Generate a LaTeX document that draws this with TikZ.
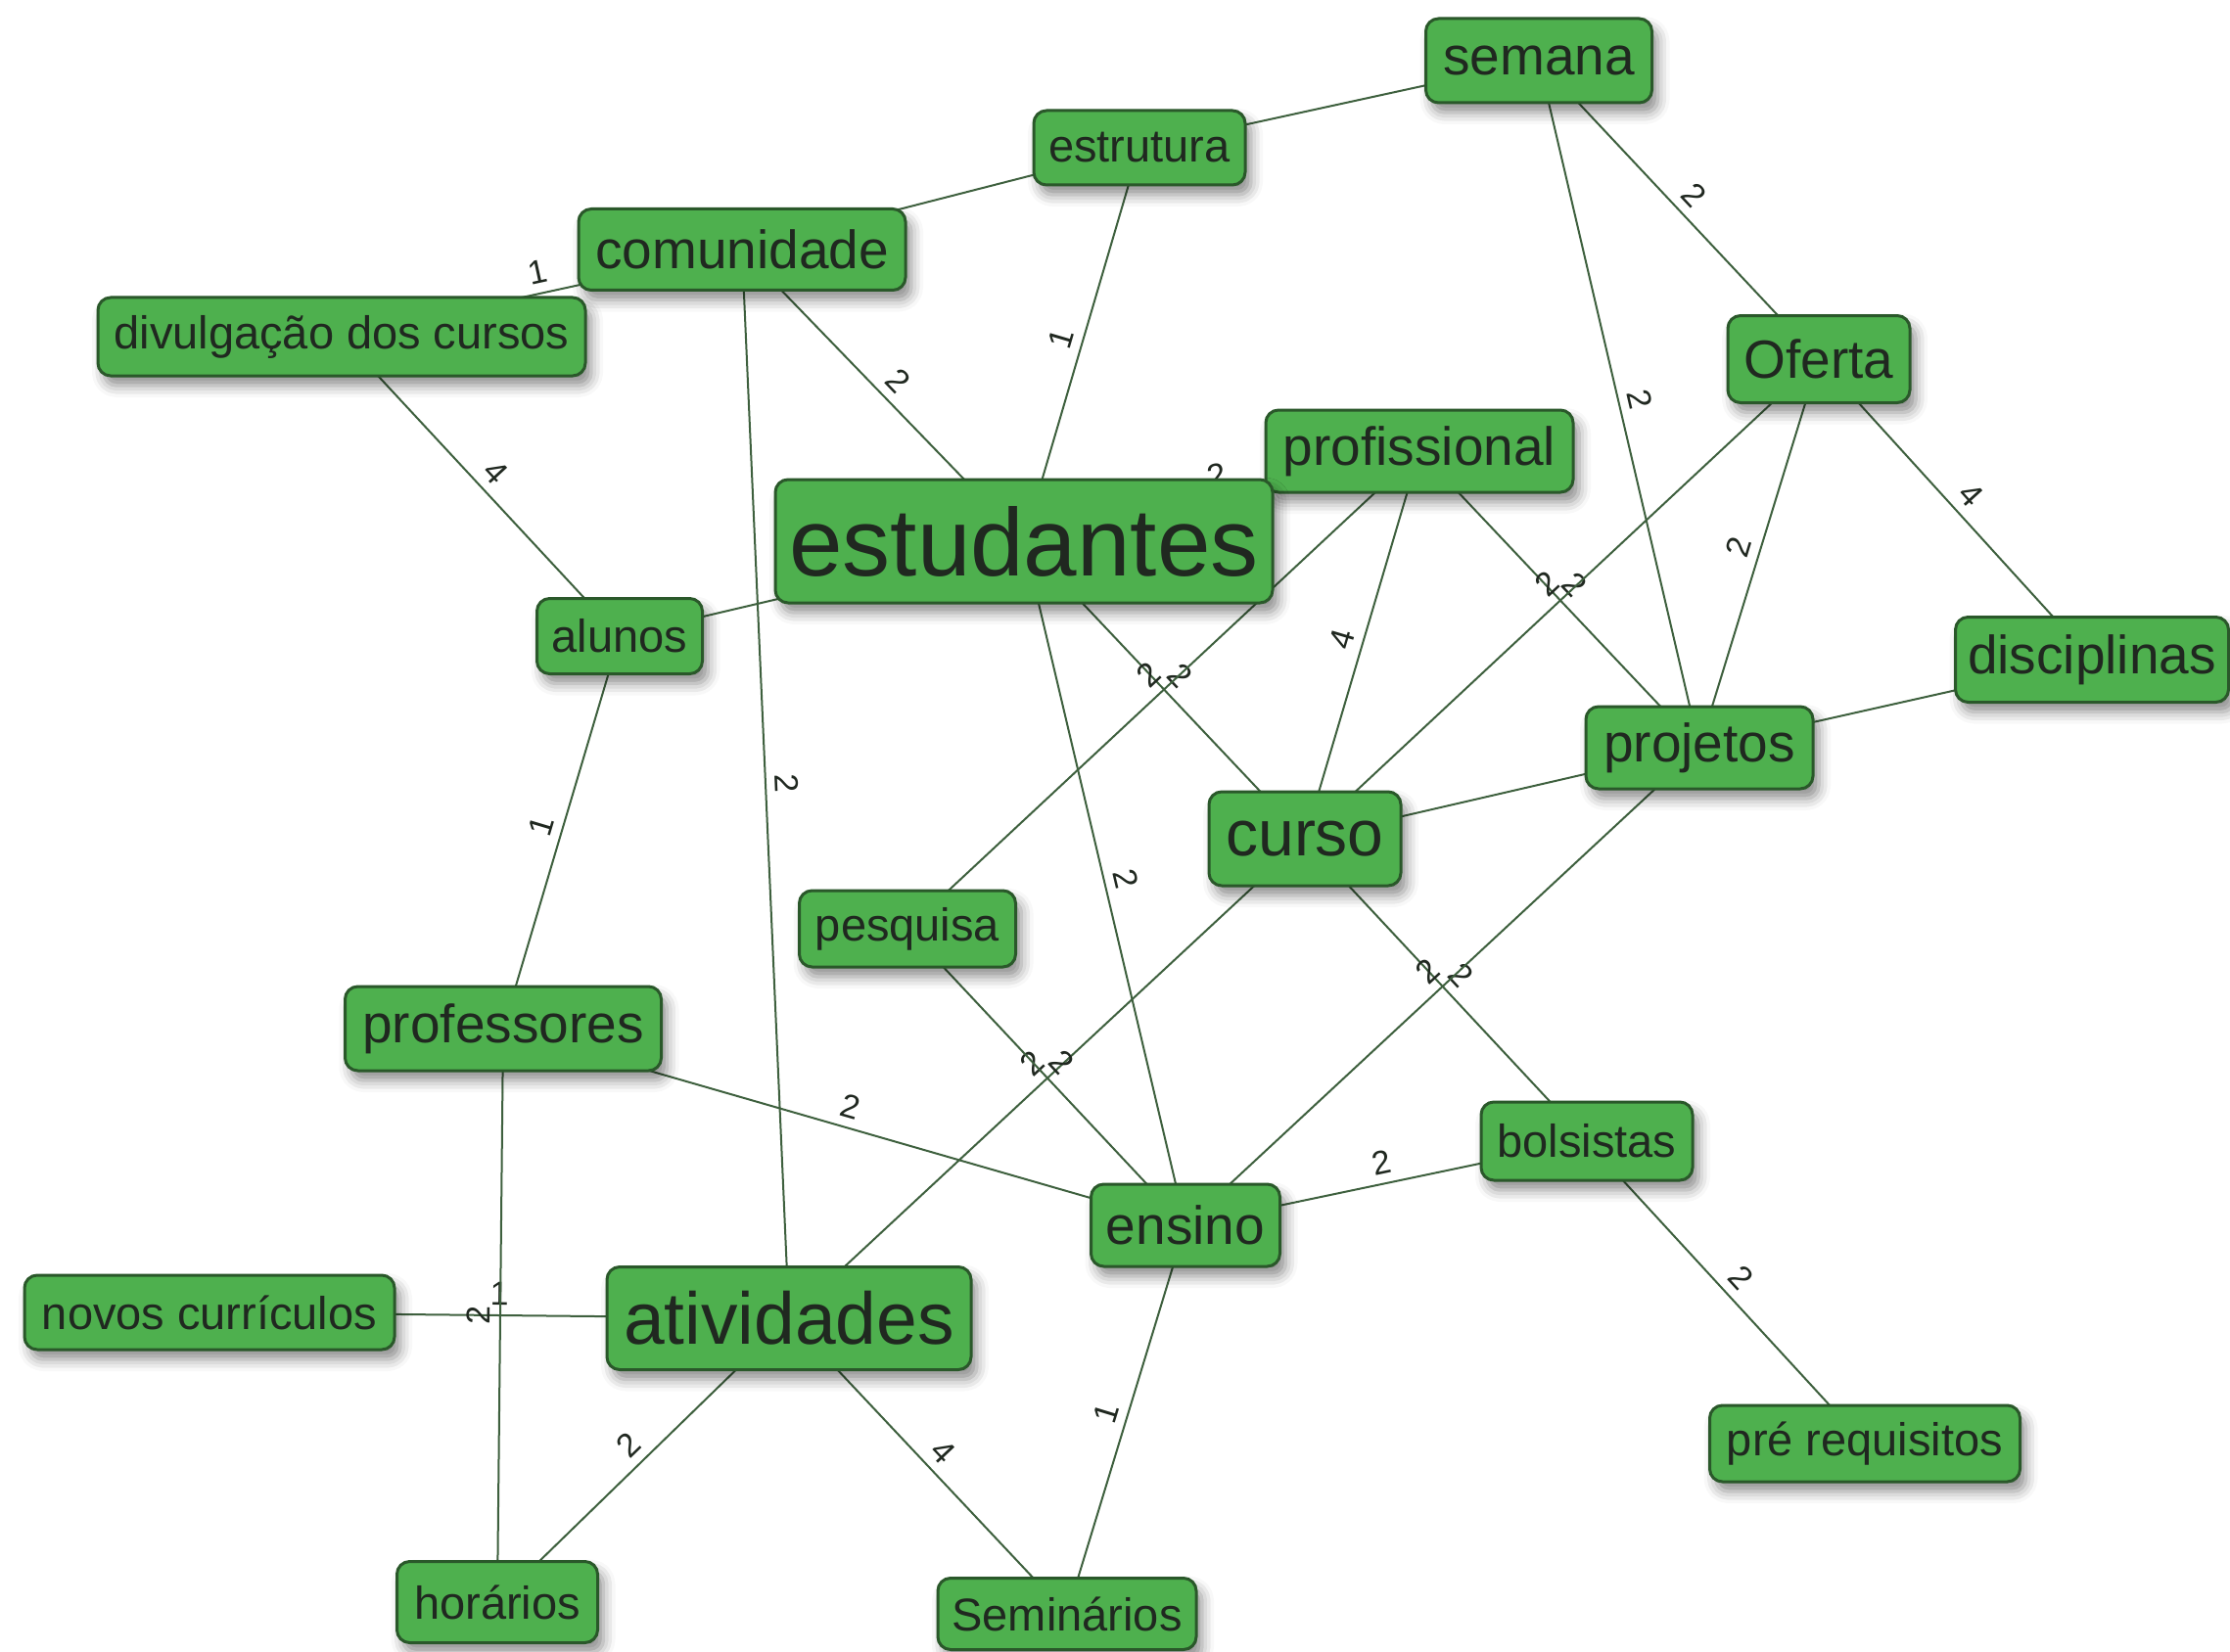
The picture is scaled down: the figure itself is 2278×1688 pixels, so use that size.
\documentclass[tikz,border=0pt]{standalone}
\usepackage{fontspec}
\setmainfont{Liberation Sans}
\usetikzlibrary{shadows.blur}
\definecolor{boxfill}{RGB}{78,176,78}
\definecolor{boxdraw}{RGB}{42,88,42}
\definecolor{txt}{RGB}{32,40,32}
\definecolor{edgec}{RGB}{62,96,62}
\pgfdeclarelayer{bg}
\pgfsetlayers{bg,main}
\begin{document}
\begin{tikzpicture}[x=1pt,y=-1pt,
  concept/.style={rectangle, rounded corners=13pt, fill=boxfill, draw=boxdraw,
    line width=3pt, text=txt, inner sep=0pt,
    blur shadow={shadow xshift=6pt, shadow yshift=-10pt, shadow blur radius=12pt, shadow opacity=45}},
  fsmall/.style={font=\fontsize{47}{50}\selectfont},
  fmed/.style={font=\fontsize{55}{58}\selectfont},
  fcurso/.style={font=\fontsize{66}{70}\selectfont},
  fativ/.style={font=\fontsize{75}{80}\selectfont},
  fbig/.style={font=\fontsize{98}{104}\selectfont},
  link/.style={draw=edgec, line width=2pt},
  lbl/.style={font=\fontsize{34}{36}\selectfont, text=txt, sloped, above, inner sep=9pt, midway}
]
\useasboundingbox (0,0) rectangle (2278,1688);

\node[concept, fmed,   minimum width=231pt, minimum height=86pt]  (semana)      at (1572,62)   {semana};
\node[concept, fsmall, minimum width=216pt, minimum height=76pt]  (estrutura)   at (1164,151)  {estrutura};
\node[concept, fmed,   minimum width=334pt, minimum height=83pt]  (comunidade)  at (758,255)   {comunidade};
\node[concept, fsmall, minimum width=498pt, minimum height=80pt]  (divulgacao)  at (349,344)   {divulgação dos cursos};
\node[concept, fmed,   minimum width=186pt, minimum height=89pt]  (oferta)      at (1858,367)  {Oferta};
\node[concept, fmed,   minimum width=314pt, minimum height=84pt]  (profissional) at (1450,461) {profissional};
\node[concept, fbig,   minimum width=508pt, minimum height=126pt] (estudantes)  at (1046,553)  {estudantes};
\node[concept, fsmall, minimum width=169pt, minimum height=77pt]  (alunos)      at (633,650)   {alunos};
\node[concept, fmed,   minimum width=279pt, minimum height=87pt]  (disciplinas) at (2137,674)  {disciplinas};
\node[concept, fmed,   minimum width=232pt, minimum height=84pt]  (projetos)    at (1736,764)  {projetos};
\node[concept, fcurso, minimum width=196pt, minimum height=96pt]  (curso)       at (1333,857)  {curso};
\node[concept, fsmall, minimum width=221pt, minimum height=78pt]  (pesquisa)    at (927,949)   {pesquisa};
\node[concept, fmed,   minimum width=323pt, minimum height=86pt]  (professores) at (514,1051)  {professores};
\node[concept, fsmall, minimum width=216pt, minimum height=80pt]  (bolsistas)   at (1621,1166) {bolsistas};
\node[concept, fmed,   minimum width=193pt, minimum height=84pt]  (ensino)      at (1211,1252) {ensino};
\node[concept, fsmall, minimum width=378pt, minimum height=76pt]  (novos)       at (214,1341)  {novos currículos};
\node[concept, fativ,  minimum width=372pt, minimum height=105pt] (atividades)  at (806,1347)  {atividades};
\node[concept, fsmall, minimum width=317pt, minimum height=78pt]  (prereq)      at (1905,1475) {pré requisitos};
\node[concept, fsmall, minimum width=205pt, minimum height=83pt]  (horarios)    at (508,1637)  {horários};
\node[concept, fsmall, minimum width=264pt, minimum height=73pt]  (seminarios)  at (1090,1649) {Seminários};

\begin{pgfonlayer}{bg}
\draw[link] (estrutura.center) -- (semana.center);
\draw[link] (comunidade.center) -- (estrutura.center);
\draw[link] (comunidade.center) -- node[lbl]{1} (divulgacao.center);
\draw[link] (divulgacao.center) -- node[lbl]{4} (alunos.center);
\draw[link] (comunidade.center) -- node[lbl]{2} (estudantes.center);
\draw[link] (estrutura.center) -- node[lbl]{1} (estudantes.center);
\draw[link] (comunidade.center) -- node[lbl]{2} (atividades.center);
\draw[link] (estudantes.center) -- (alunos.center);
\draw[link] (estudantes.center) -- node[lbl]{2} (profissional.center);
\draw[link] (estudantes.center) -- node[lbl]{2} (curso.center);
\draw[link] (estudantes.center) -- node[lbl]{2} (ensino.center);
\draw[link] (profissional.center) -- node[lbl]{4} (curso.center);
\draw[link] (profissional.center) -- node[lbl]{2} (projetos.center);
\draw[link] (profissional.center) -- node[lbl]{2} (pesquisa.center);
\draw[link] (oferta.center) -- node[lbl]{2} (curso.center);
\draw[link] (semana.center) -- node[lbl]{2} (projetos.center);
\draw[link] (semana.center) -- node[lbl]{2} (oferta.center);
\draw[link] (oferta.center) -- node[lbl]{2} (projetos.center);
\draw[link] (oferta.center) -- node[lbl]{4} (disciplinas.center);
\draw[link] (projetos.center) -- (disciplinas.center);
\draw[link] (curso.center) -- (projetos.center);
\draw[link] (curso.center) -- node[lbl]{2} (atividades.center);
\draw[link] (pesquisa.center) -- node[lbl]{2} (ensino.center);
\draw[link] (curso.center) -- node[lbl]{2} (bolsistas.center);
\draw[link] (projetos.center) -- node[lbl]{2} (ensino.center);
\draw[link] (professores.center) -- node[lbl]{1} (alunos.center);
\draw[link] (professores.center) -- node[lbl]{2} (ensino.center);
\draw[link] (ensino.center) -- node[lbl]{2} (bolsistas.center);
\draw[link] (bolsistas.center) -- node[lbl]{2} (prereq.center);
\draw[link] (ensino.center) -- node[lbl]{1} (seminarios.center);
\draw[link] (atividades.center) -- node[lbl]{4} (seminarios.center);
\draw[link] (atividades.center) -- node[lbl]{2} (horarios.center);
\draw[link] (novos.center) -- node[lbl]{1} (atividades.center);
\draw[link] (professores.center) -- node[lbl]{2} (horarios.center);
\end{pgfonlayer}
\end{tikzpicture}
\end{document}
